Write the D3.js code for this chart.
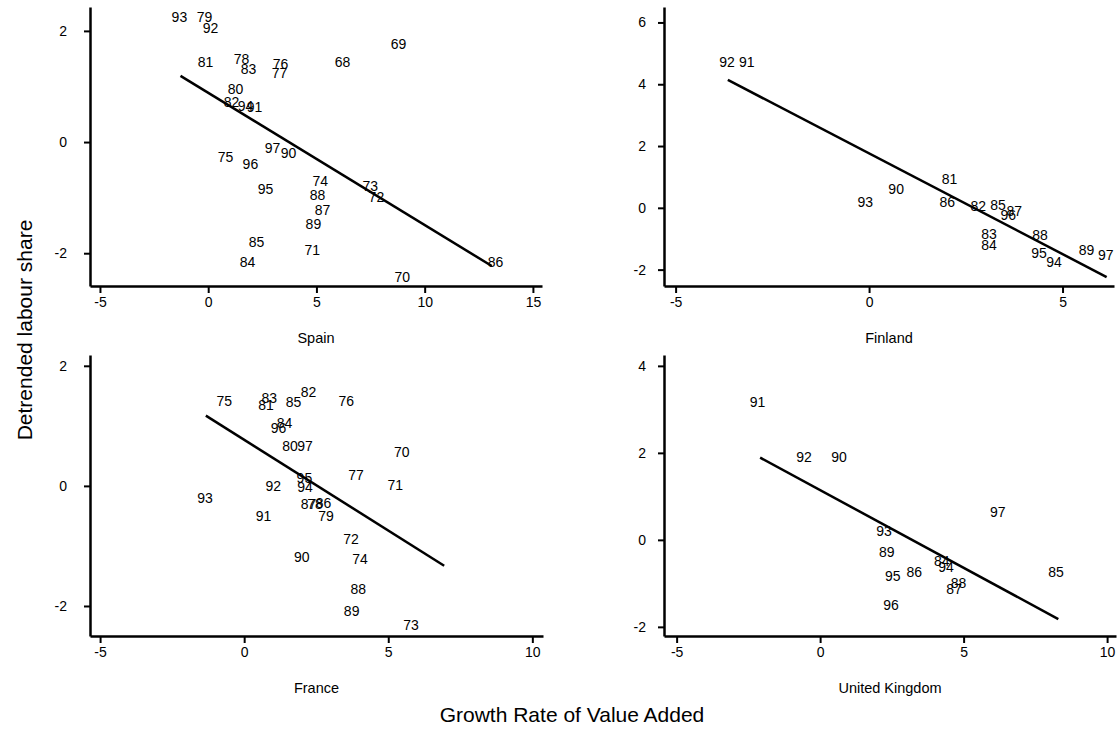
<!DOCTYPE html>
<html>
<head>
<meta charset="utf-8">
<script src="https://cdn.jsdelivr.net/npm/d3@7"></script>
<style>
  body { margin: 0; background: #fff; }
  text { font-family: "Liberation Sans", Arial, sans-serif; fill: #000; }
</style>
</head>
<body>
<div id="chart"></div>
<script>
// ---- data (year label, growth of value added, detrended labour share)
const spainYears = [93, 79, 92, 81, 78, 83, 76, 77, 68, 69, 80, 82, 94, 91, 97, 90, 75, 96, 95, 74, 88, 87, 89, 73, 72, 85, 84, 71, 70, 86]
const spainX = [-1.33, -0.17, 0.11, -0.12, 1.54, 1.86, 3.34, 3.30, 6.21, 8.79, 1.26, 1.08, 1.72, 2.14, 2.97, 3.71, 0.80, 1.95, 2.65, 5.18, 5.05, 5.28, 4.86, 7.49, 7.77, 2.23, 1.82, 4.81, 8.97, 13.27]
const spainY = [2.25, 2.25, 2.05, 1.44, 1.50, 1.32, 1.41, 1.24, 1.44, 1.77, 0.95, 0.72, 0.65, 0.63, -0.11, -0.20, -0.27, -0.40, -0.85, -0.70, -0.95, -1.23, -1.48, -0.79, -0.99, -1.80, -2.16, -1.95, -2.43, -2.16]
const spainFit = [[-1.28, 1.19], [13.1, -2.23]]

const finlandYears = [92, 91, 93, 90, 81, 86, 82, 85, 96, 87, 83, 84, 88, 95, 94, 89, 97]
const finlandX = [-3.67, -3.16, -0.10, 0.70, 2.08, 2.02, 2.82, 3.33, 3.60, 3.75, 3.10, 3.10, 4.42, 4.39, 4.78, 5.62, 6.12]
const finlandY = [4.73, 4.73, 0.17, 0.60, 0.93, 0.17, 0.04, 0.10, -0.23, -0.12, -0.85, -1.22, -0.87, -1.45, -1.77, -1.36, -1.52]
const finlandFit = [[-3.65, 4.14], [6.14, -2.24]]

const franceYears = [75, 83, 81, 85, 82, 76, 84, 96, 80, 97, 92, 95, 94, 93, 91, 87, 78, 86, 79, 77, 70, 71, 72, 90, 74, 88, 89, 73]
const franceX = [-0.69, 0.87, 0.76, 1.71, 2.23, 3.54, 1.40, 1.19, 1.59, 2.11, 1.01, 2.09, 2.11, -1.36, 0.67, 2.23, 2.46, 2.75, 2.84, 3.88, 5.47, 5.24, 3.71, 2.00, 4.02, 3.96, 3.73, 5.79]
const franceY = [1.42, 1.46, 1.35, 1.39, 1.56, 1.42, 1.05, 0.96, 0.66, 0.66, -0.01, 0.13, -0.02, -0.21, -0.50, -0.31, -0.31, -0.28, -0.51, 0.18, 0.56, 0.02, -0.88, -1.18, -1.22, -1.72, -2.08, -2.32]
const franceFit = [[-1.33, 1.17], [6.94, -1.33]]

const ukYears = [91, 92, 90, 97, 93, 89, 95, 86, 96, 84, 94, 88, 87, 85]
const ukX = [-2.18, -0.56, 0.66, 6.19, 2.23, 2.32, 2.53, 3.28, 2.47, 4.24, 4.39, 4.82, 4.67, 8.22]
const ukY = [3.16, 1.90, 1.90, 0.63, 0.21, -0.29, -0.84, -0.75, -1.49, -0.48, -0.63, -1.00, -1.13, -0.75]
const ukFit = [[-2.09, 1.89], [8.30, -1.82]]

const spainXTicks = [-5, 0, 5, 10, 15]
const spainYTicks = [-2, 0, 2]
const finlandXTicks = [-5, 0, 5]
const finlandYTicks = [-2, 0, 2, 4, 6]
const franceXTicks = [-5, 0, 5, 10]
const franceYTicks = [-2, 0, 2]
const ukXTicks = [-5, 0, 5, 10]
const ukYTicks = [-2, 0, 2, 4]

const W = 1118, H = 750

let svg = d3.select('#chart').append('svg')
  .attr('width', W)
  .attr('height', H)

let panels = [
  {name: 'Spain', years: spainYears, xs: spainX, ys: spainY, fit: spainFit, xt: spainXTicks, yt: spainYTicks,
   left: 90, right: 542, top: 7, bottom: 286, xd: [-5.46, 15.42], yd: [-2.59, 2.43], pad: 17},
  {name: 'Finland', years: finlandYears, xs: finlandX, ys: finlandY, fit: finlandFit, xt: finlandXTicks, yt: finlandYTicks,
   left: 664, right: 1114, top: 7, bottom: 286, xd: [-5.30, 6.33], yd: [-2.53, 6.50], pad: 12},
  {name: 'France', years: franceYears, xs: franceX, ys: franceY, fit: franceFit, xt: franceXTicks, yt: franceYTicks,
   left: 90, right: 543, top: 355, bottom: 636, xd: [-5.35, 10.37], yd: [-2.5, 2.18], pad: 17},
  {name: 'United Kingdom', years: ukYears, xs: ukX, ys: ukY, fit: ukFit, xt: ukXTicks, yt: ukYTicks,
   left: 664, right: 1116, top: 355, bottom: 636, xd: [-5.44, 10.31], yd: [-2.21, 4.25], pad: 12}
]

panels.forEach(p => {
  let x = d3.scaleLinear().domain(p.xd).range([p.left, p.right])
  let y = d3.scaleLinear().domain(p.yd).range([p.bottom, p.top])

  let g = svg.append('g')

  // x axis
  let xg = g.append('g')
    .attr('transform', 'translate(0,' + p.bottom + ')')
    .call(d3.axisBottom(x).tickValues(p.xt).tickSize(7).tickSizeOuter(0).tickPadding(4).tickFormat(d => String(d)))
  // y axis
  let yg = g.append('g')
    .attr('transform', 'translate(' + p.left + ',0)')
    .call(d3.axisLeft(y).tickValues(p.yt).tickSize(6).tickSizeOuter(0).tickPadding(p.pad).tickFormat(d => String(d)))

  ;[xg, yg].forEach(a => {
    a.select('.domain').attr('stroke', '#000').attr('stroke-width', 2.5)
    a.selectAll('.tick line').attr('stroke', '#000').attr('stroke-width', 2)
    a.selectAll('.tick text').attr('font-size', 14).attr('font-family', '"Liberation Sans", Arial, sans-serif').attr('fill', '#000')
  })

  // fitted line
  g.append('line')
    .attr('x1', x(p.fit[0][0]))
    .attr('y1', y(p.fit[0][1]))
    .attr('x2', x(p.fit[1][0]))
    .attr('y2', y(p.fit[1][1]))
    .attr('stroke', '#000')
    .attr('stroke-width', 2.5)

  // year labels as markers
  g.append('g')
    .selectAll('text')
    .data(p.years)
    .enter()
    .append('text')
    .attr('x', (d, i) => x(p.xs[i]))
    .attr('y', (d, i) => y(p.ys[i]))
    .attr('dy', '0.35em')
    .attr('text-anchor', 'middle')
    .attr('font-size', 14)
    .text(d => d)

  // panel title
  g.append('text')
    .attr('x', (p.left + p.right) / 2)
    .attr('y', p.bottom + 52)
    .attr('dy', '0.35em')
    .attr('text-anchor', 'middle')
    .attr('font-size', 14.5)
    .text(p.name)
})

svg.append('text')
  .attr('transform', 'translate(25,330) rotate(-90)')
  .attr('text-anchor', 'middle')
  .attr('dy', '0.35em')
  .attr('font-size', 21)
  .text('Detrended labour share')

svg.append('text')
  .attr('x', 572)
  .attr('y', 715)
  .attr('text-anchor', 'middle')
  .attr('dy', '0.35em')
  .attr('font-size', 21)
  .text('Growth Rate of Value Added')
</script>
</body>
</html>
